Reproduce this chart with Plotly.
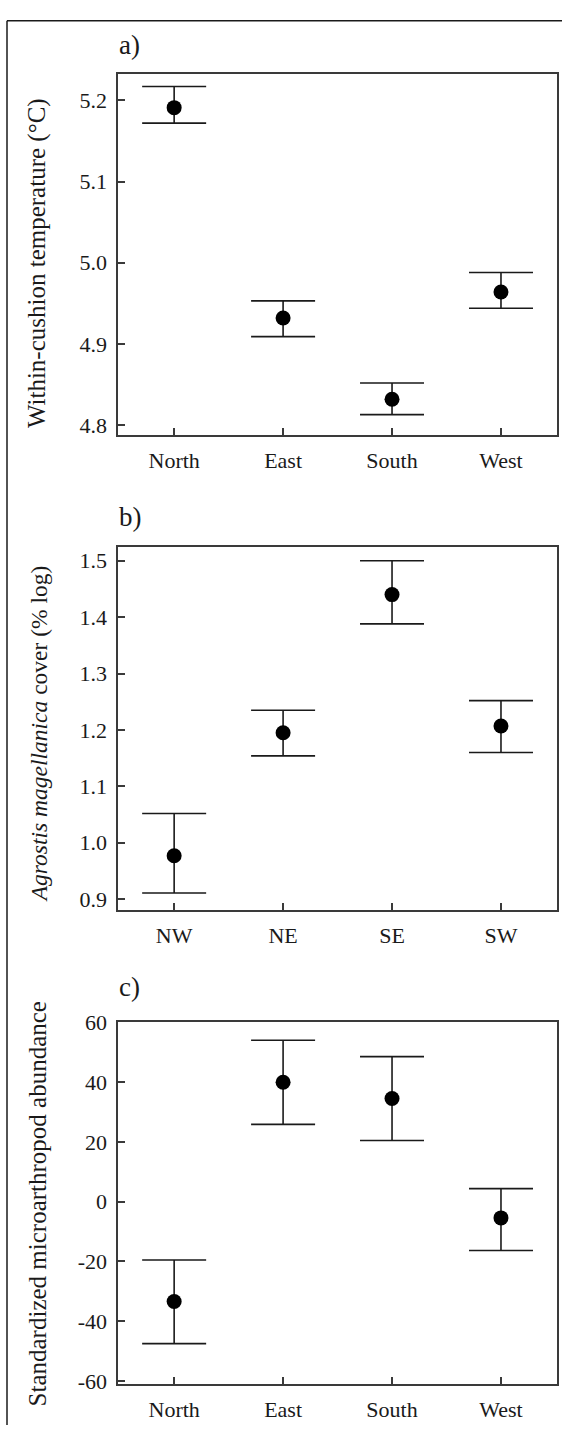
import plotly.graph_objects as go

W, H = 562, 1435

# Panel a: within-cushion temperature by aspect
aspects = ["North", "East", "South", "West"]
temp_mean = [5.191, 4.932, 4.832, 4.964]
temp_upper = [5.217, 4.953, 4.852, 4.988]
temp_lower = [5.172, 4.909, 4.813, 4.944]
temp_ticks = [4.8, 4.9, 5.0, 5.1, 5.2]

# Panel b: Agrostis magellanica cover by quadrant
quadrants = ["NW", "NE", "SE", "SW"]
cover_mean = [0.977, 1.195, 1.440, 1.207]
cover_upper = [1.052, 1.235, 1.500, 1.252]
cover_lower = [0.911, 1.154, 1.388, 1.160]
cover_ticks = [0.9, 1.0, 1.1, 1.2, 1.3, 1.4, 1.5]

# Panel c: standardized microarthropod abundance by aspect
abund_mean = [-33.4, 40.0, 34.6, -5.4]
abund_upper = [-19.5, 54.1, 48.6, 4.4]
abund_lower = [-47.5, 25.9, 20.5, -16.3]
abund_ticks = [-60, -40, -20, 0, 20, 40, 60]
abund_ticktext = ["-60", "-40", "-20", "0", "20", "40", "60"]

FONT = "'Liberation Serif', 'DejaVu Serif', serif"
INK = "#1a1a1a"
FRAME = "#3a3a3a"


def px_x(v):
    return v / W


def px_y(v):
    return 1 - v / H


panels = [
    dict(cats=aspects, mean=temp_mean, up=temp_upper, lo=temp_lower,
         top=62.5, bottom=429.5, yrange=[4.788, 5.233], tickvals=temp_ticks,
         ticktext=[f"{t:.1f}" for t in temp_ticks], letter="a)", letter_y=34,
         title="Within-cushion temperature (°C)", title_y=255, title_x=37,
         title_size=25),
    dict(cats=quadrants, mean=cover_mean, up=cover_upper, lo=cover_lower,
         top=543.3, bottom=911.7, yrange=[0.8813, 1.5244], tickvals=cover_ticks,
         ticktext=[f"{t:.1f}" for t in cover_ticks], letter="b)", letter_y=513,
         title="<i>Agrostis magellanica</i> cover (% log)", title_y=733, title_x=38.5,
         title_size=23.5),
    dict(cats=aspects, mean=abund_mean, up=abund_upper, lo=abund_lower,
         top=1025.7, bottom=1393, yrange=[-60.9, 60.2], tickvals=abund_ticks,
         ticktext=abund_ticktext, letter="c)", letter_y=990,
         title="Standardized microarthropod abundance", title_y=1211, title_x=37,
         title_size=25),
]

fig = go.Figure()
annotations = []
layout_axes = {}

for i, p in enumerate(panels, start=1):
    sfx = "" if i == 1 else str(i)
    err_plus = [u - m for u, m in zip(p["up"], p["mean"])]
    err_minus = [m - l for m, l in zip(p["mean"], p["lo"])]
    fig.add_trace(go.Scatter(
        x=p["cats"], y=p["mean"], mode="markers",
        marker=dict(color="black", size=15),
        error_y=dict(type="data", symmetric=False, array=err_plus,
                     arrayminus=err_minus, width=32, thickness=1.6, color=INK),
        xaxis="x" + sfx, yaxis="y" + sfx, showlegend=False, cliponaxis=False,
    ))
    axis_common = dict(
        showline=True, mirror=True, linecolor=FRAME, linewidth=2,
        ticks="inside", ticklen=7, tickwidth=1.5, tickcolor=FRAME,
        showgrid=False, zeroline=False,
        tickfont=dict(family=FONT, size=22, color=INK),
    )
    layout_axes["xaxis" + sfx] = dict(
        axis_common, domain=[px_x(117.5), px_x(557.3)],
        anchor="y" + sfx, type="category", categoryorder="array",
        categoryarray=p["cats"], range=[-0.52, 3.517], ticklabelstandoff=5,
    )
    layout_axes["yaxis" + sfx] = dict(
        axis_common, domain=[px_y(p["bottom"]), px_y(p["top"])],
        anchor="x" + sfx, range=p["yrange"], tickmode="array",
        tickvals=p["tickvals"], ticktext=p["ticktext"], ticklabelstandoff=4,
    )
    annotations.append(dict(
        text=p["letter"], xref="paper", yref="paper",
        x=px_x(116.5), y=px_y(p["letter_y"]), xanchor="left", yanchor="middle",
        showarrow=False, font=dict(family=FONT, size=27, color=INK),
    ))
    annotations.append(dict(
        text=p["title"], xref="paper", yref="paper",
        x=px_x(p["title_x"]), y=px_y(p["title_y"]), xanchor="center",
        yanchor="middle", textangle=-90, showarrow=False,
        font=dict(family=FONT, size=p["title_size"], color=INK),
    ))

# Border lines along the top and left edges of the figure
shapes = [
    dict(type="line", xref="paper", yref="paper", x0=px_x(7), x1=1.0,
         y0=px_y(9), y1=px_y(9), line=dict(color=INK, width=1.5)),
    dict(type="line", xref="paper", yref="paper", x0=px_x(7), x1=px_x(7),
         y0=px_y(9), y1=0.0, line=dict(color=INK, width=1.5)),
]

fig.update_layout(
    width=W, height=H, margin=dict(l=0, r=0, t=0, b=0),
    paper_bgcolor="white", plot_bgcolor="white",
    annotations=annotations, shapes=shapes,
    font=dict(family=FONT, color=INK),
    **layout_axes,
)

fig.write_html("out.html")
